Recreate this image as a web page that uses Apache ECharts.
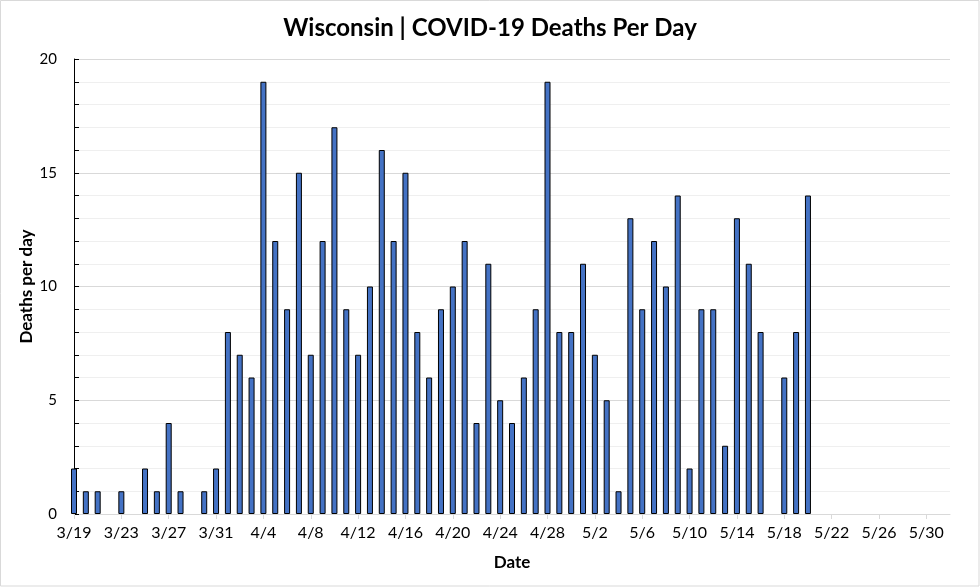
<!DOCTYPE html>
<html>
<head>
<meta charset="utf-8">
<script src="https://cdn.jsdelivr.net/npm/echarts@6/dist/echarts.min.js"></script>
<style>
html,body{margin:0;padding:0;background:#fff;}
#c{width:980px;height:587px;}
</style>
</head>
<body>
<div id="c"></div>
<script>
const title = 'Wisconsin | COVID-19 Deaths Per Day';
const xName = 'Date';
const yName = 'Deaths per day';

const dates = [
  '3/19','3/20','3/21','3/22','3/23','3/24','3/25','3/26','3/27','3/28','3/29','3/30','3/31',
  '4/1','4/2','4/3','4/4','4/5','4/6','4/7','4/8','4/9','4/10','4/11','4/12','4/13','4/14','4/15',
  '4/16','4/17','4/18','4/19','4/20','4/21','4/22','4/23','4/24','4/25','4/26','4/27','4/28','4/29','4/30',
  '5/1','5/2','5/3','5/4','5/5','5/6','5/7','5/8','5/9','5/10','5/11','5/12','5/13','5/14','5/15',
  '5/16','5/17','5/18','5/19','5/20','5/21','5/22','5/23','5/24','5/25','5/26','5/27','5/28','5/29',
  '5/30','5/31','6/1'
];

// deaths per day from 3/19 to 5/20
const deaths = [
  2,1,1,0,1,0,2,1,4,1,0,1,2,
  8,7,6,19,12,9,15,7,12,17,9,7,10,16,12,
  15,8,6,9,10,12,4,11,5,4,6,9,19,8,8,
  11,7,5,1,13,9,12,10,14,2,9,9,3,13,11,
  8,0,6,8,14
];

const yTicks = [0,5,10,15,20];

const FONT = 'Lato, "Open Sans", sans-serif';

const chart = echarts.init(document.getElementById('c'), null, {renderer:'canvas'});
chart.setOption({
  animation: false,
  backgroundColor: '#fff',
  title: {
    text: title,
    left: 'center',
    top: 11,
    textStyle: {fontFamily: FONT, fontWeight: 'bold', fontSize: 24, color: '#000'}
  },
  graphic: [{
    type: 'rect',
    shape: {x: 0.5, y: 0.5, width: 978.5, height: 585.5},
    style: {fill: 'none', stroke: '#d9d9d9', lineWidth: 1},
    silent: true
  }],
  grid: {left: 74, right: 30, top: 59, bottom: 73},
  xAxis: {
    type: 'category',
    data: dates,
    boundaryGap: false,
    name: xName,
    nameLocation: 'middle',
    nameGap: 40,
    nameMoveOverlap: false,
    nameTextStyle: {fontFamily: FONT, fontWeight: 'bold', fontSize: 17, color: '#000'},
    axisLine: {lineStyle: {color: '#d9d9d9', width: 1}},
    axisTick: {show: true, interval: 3, length: 5, lineStyle: {color: '#d9d9d9'}},
    axisLabel: {interval: 3, margin: 11, fontFamily: FONT, fontSize: 16, color: '#000'},
    splitLine: {show: false}
  },
  yAxis: {
    type: 'value',
    min: yTicks[0],
    max: yTicks[yTicks.length - 1],
    interval: yTicks[1] - yTicks[0],
    name: yName,
    nameLocation: 'middle',
    nameGap: 39,
    nameMoveOverlap: false,
    nameTextStyle: {fontFamily: FONT, fontWeight: 'bold', fontSize: 17, color: '#000'},
    axisLine: {show: true, lineStyle: {color: '#000', width: 1}},
    axisTick: {show: true, inside: true, length: 5, lineStyle: {color: '#000'}},
    minorTick: {show: true, splitNumber: 5, length: 5, lineStyle: {color: '#000'}},
    axisLabel: {margin: 17, fontFamily: FONT, fontSize: 15, color: '#000'},
    splitLine: {show: true, lineStyle: {color: '#d9d9d9', width: 1}},
    minorSplitLine: {show: true, lineStyle: {color: '#efefef', width: 1}}
  },
  series: [{
    type: 'bar',
    data: deaths.map(v => v === 0 ? '-' : v),
    barWidth: 6,
    clip: true,
    itemStyle: {color: '#4472C4', borderColor: '#000', borderWidth: 1}
  }]
});
</script>
</body>
</html>
